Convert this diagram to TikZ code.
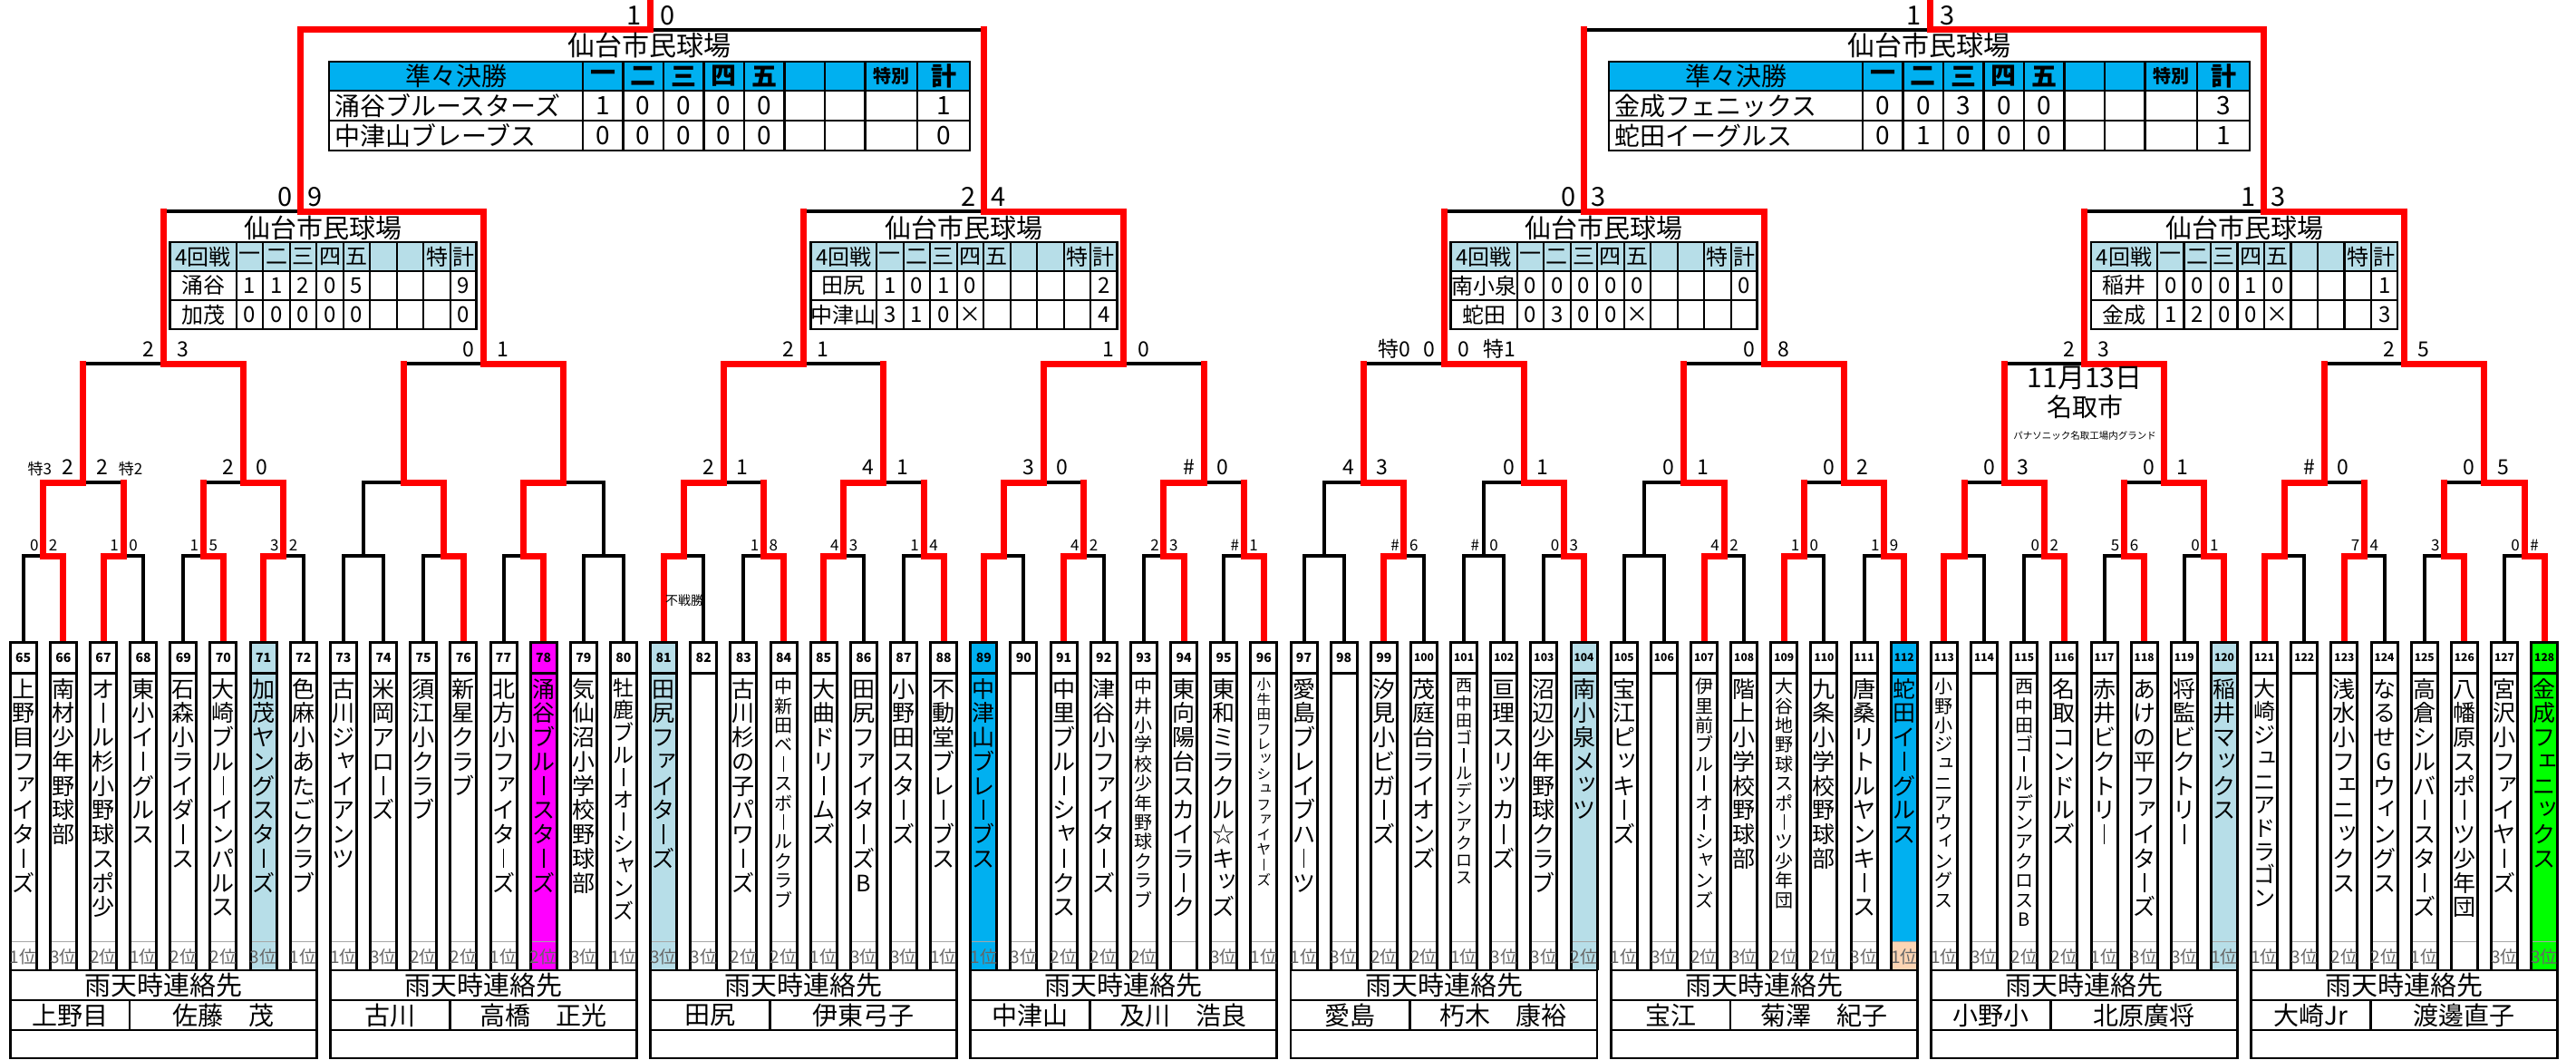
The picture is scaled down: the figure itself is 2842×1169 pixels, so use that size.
\documentclass[tikz,border=0pt]{standalone}
\usepackage{fontspec}
\setmainfont{Noto Sans CJK JP}
\usetikzlibrary{calc}
\definecolor{ltblue}{HTML}{B7DEE8}
\definecolor{qfblue}{HTML}{00B0F0}
\definecolor{mag}{HTML}{FF00FF}
\definecolor{grn}{HTML}{00FF00}
\definecolor{peach}{HTML}{FCD5B4}
\definecolor{rd}{HTML}{FF0000}

% ---------- vertical text ----------
\def\vtstrut{\vrule width 0pt height .92em depth .15em\relax}
\def\vtbox#1{\hbox to 1em{\hss\vtstrut#1\hss}}
\def\vtbar{\hbox to 1em{\hss\vtstrut\vrule width .075em height .82em depth .04em\hss}}
\def\vtsmall#1{\hbox to 1em{\vtstrut\kern.14em\raise.17em\rlap{#1}\hss}}
\expandafter\def\csname vts@ー\endcsname{\vtbar}
\expandafter\def\csname vts@ァ\endcsname{\vtsmall{ァ}}
\expandafter\def\csname vts@ィ\endcsname{\vtsmall{ィ}}
\expandafter\def\csname vts@ゥ\endcsname{\vtsmall{ゥ}}
\expandafter\def\csname vts@ェ\endcsname{\vtsmall{ェ}}
\expandafter\def\csname vts@ォ\endcsname{\vtsmall{ォ}}
\expandafter\def\csname vts@ッ\endcsname{\vtsmall{ッ}}
\expandafter\def\csname vts@ャ\endcsname{\vtsmall{ャ}}
\expandafter\def\csname vts@ュ\endcsname{\vtsmall{ュ}}
\expandafter\def\csname vts@ョ\endcsname{\vtsmall{ョ}}
\def\vtc#1{\ifcsname vts@#1\endcsname\csname vts@#1\endcsname\else\vtbox{#1}\fi}
\def\vtloop#1{\ifx\relax#1\else\vtc{#1}\expandafter\vtloop\fi}
\newcommand\vtext[2]{\vbox{\fontsize{#1}{#1}\selectfont\offinterlineskip\expandafter\vtloop#2\relax}}

\tikzset{
 bk/.style={line width=4pt,line join=miter},
 rdl/.style={draw=rd,line width=7pt,line join=miter,line cap=rect},
 tbox/.style={line width=3pt},
 tbl/.style={line width=2.8pt},
 tin/.style={line width=2.2pt},
 numtxt/.style={inner sep=0pt,font=\bfseries\fontsize{14}{14}\selectfont},
 rktxt/.style={inner sep=0pt,text=black!60,font=\fontsize{19}{19}\selectfont},
 ctitle/.style={inner sep=0pt,font=\fontsize{29}{29}\selectfont},
 cname/.style={inner sep=0pt,font=\fontsize{28}{28}\selectfont},
 qtitle/.style={inner sep=0pt,font=\fontsize{30}{30}\selectfont},
 qcell/.style={inner sep=0pt,font=\fontsize{28}{28}\selectfont},
 qhead/.style={inner sep=0pt,font=\bfseries\fontsize{28}{28}\selectfont},
 r4title/.style={inner sep=0pt,font=\fontsize{29}{29}\selectfont},
 r4cell/.style={inner sep=0pt,font=\fontsize{24}{24}\selectfont},
}

% score labels: #1 name, #2 coordinate, #3 size, #4 left, #5 right, #6 raise, #7 left gap, #8 right gap
\newcommand\lbl[8]{%
 \node[anchor=base east,inner sep=0pt,font=\fontsize{#3}{#3}\selectfont,xshift=-#7pt,yshift=#6pt] (#1l) at (#2) {#4};%
 \node[anchor=base west,inner sep=0pt,font=\fontsize{#3}{#3}\selectfont,xshift=#8pt,yshift=#6pt] (#1r) at (#2) {#5};}

% red winner path: #1 team number, #2 wins
\newcommand\redpath[2]{%
 \pgfmathtruncatemacro\ia{(#1-65)/2}%
 \pgfmathtruncatemacro\ib{(#1-65)/4}%
 \pgfmathtruncatemacro\ic{(#1-65)/8}%
 \pgfmathtruncatemacro\id{(#1-65)/16}%
 \pgfmathtruncatemacro\ie{(#1-65)/32}%
 \ifcase#2\relax\or
 \draw[rdl] (T#1) |- (A\ia) -- (A\ia |- B\ib);\or
 \draw[rdl] (T#1) |- (A\ia) |- (B\ib) -- (B\ib |- C\ic);\or
 \draw[rdl] (T#1) |- (A\ia) |- (B\ib) |- (C\ic) -- (C\ic |- D\id);\or
 \draw[rdl] (T#1) |- (A\ia) |- (B\ib) |- (C\ic) |- (D\id) -- (D\id |- E\ie);\or
 \draw[rdl] (T#1) |- (A\ia) |- (B\ib) |- (C\ic) |- (D\id) |- (E\ie) -- (F\ie);\fi}

% 4th-round table: #1 id, #2 centre x, #3 name1, #4 row1, #5 name2, #6 row2
\newcommand\rtab[6]{%
 \pgfmathsetmacro\tx{#2-169}%
 \fill[white] (\tx,267) rectangle ++(338,96);
 \fill[ltblue] (\tx,267) rectangle ++(338,32);
 \foreach \k in {1,...,9}{\draw[tin] ({\tx+73+29.5*(\k-1)},267) -- ++(0,96);}
 \draw[tbl] (\tx,299) -- ++(338,0);
 \draw[tbl] (\tx,331) -- ++(338,0);
 \draw[tbl] (\tx,267) rectangle ++(338,96);
 \node[r4title] (#1T) at (#2,251) {仙台市民球場};
 \node[r4cell] (#1H) at (\tx+36.5,283) {4回戦};
 \foreach \vv [count=\k] in {一,二,三,四,五,{},{},特,計}{\node[r4cell] (#1H\k) at ({\tx+73+29.5*(\k-0.5)},283) {\vv};}
 \node[r4cell] (#1A) at (\tx+36.5,315) {#3};
 \foreach \vv [count=\k] in {#4}{\node[r4cell] (#1A\k) at ({\tx+73+29.5*(\k-0.5)},315) {\vv};}
 \node[r4cell] (#1B) at (\tx+36.5,347) {#5};
 \foreach \vv [count=\k] in {#6}{\node[r4cell] (#1B\k) at ({\tx+73+29.5*(\k-0.5)},347) {\vv};}
}

% quarter-final table
\newcommand\qtab[6]{%
 \pgfmathsetmacro\tx{#2-353.5}%
 \fill[white] (\tx,68) rectangle ++(707,98);
 \fill[qfblue] (\tx,68) rectangle ++(707,32);
 \foreach \k in {1,...,9}{\pgfmathsetmacro\lx{\tx+ifthenelse(\k<9,280+44.5*(\k-1),649.25)}\draw[tin] (\lx,68) -- (\lx,166);}
 \draw[tbl] (\tx,100) -- ++(707,0);
 \draw[tbl] (\tx,133) -- ++(707,0);
 \draw[tbl] (\tx,68) rectangle ++(707,98);
 \node[qtitle] (#1T) at (#2,50) {仙台市民球場};
 \node[qcell] (#1H) at (\tx+140,84) {準々決勝};
 \foreach \vv [count=\k] in {一,二,三,四,五,{},{},{\fontsize{20}{20}\selectfont 特別},計}{\pgfmathsetmacro\cx{\tx+ifthenelse(\k<8,280+44.5*(\k-0.5),620.375+57.75*(\k-8))}\node[qhead] (#1H\k) at (\cx,84) {\vv};}
 \node[qcell,anchor=west] (#1A) at (\tx+6,116.5) {#3};
 \foreach \vv [count=\k] in {#4}{\pgfmathsetmacro\cx{\tx+ifthenelse(\k<8,280+44.5*(\k-0.5),620.375+57.75*(\k-8))}\node[qcell] (#1A\k) at (\cx,116.5) {\vv};}
 \node[qcell,anchor=west] (#1B) at (\tx+6,149.5) {#5};
 \foreach \vv [count=\k] in {#6}{\pgfmathsetmacro\cx{\tx+ifthenelse(\k<8,280+44.5*(\k-0.5),620.375+57.75*(\k-8))}\node[qcell] (#1B\k) at (\cx,149.5) {\vv};}
}

\begin{document}
\begin{tikzpicture}[x=1pt,y=-1pt]
\useasboundingbox (0,0) rectangle (2842,1169);
\fill[white] (0,0) rectangle (2842,1169);

% ---------- coordinates ----------
\foreach \n in {65,...,128}{\pgfmathsetmacro\xx{25.7+44.15*(\n-65)}\coordinate (T\n) at (\xx,708);}
\foreach \i in {0,...,31}{\pgfmathsetmacro\xx{25.7+44.15*(2*\i+0.5)}\coordinate (A\i) at (\xx,613);}
\foreach \i in {0,...,15}{\pgfmathsetmacro\xx{25.7+44.15*(4*\i+1.5)}\coordinate (B\i) at (\xx,532);}
\foreach \i in {0,...,7}{\pgfmathsetmacro\xx{25.7+44.15*(8*\i+3.5)}\coordinate (C\i) at (\xx,401);}
\coordinate (D0) at (331,233);
\coordinate (D1) at (1085,233);
\coordinate (D2) at (1747,233);
\coordinate (D3) at (2497,233);
\coordinate (E0) at (717,33);
\coordinate (E1) at (2129,33);
\coordinate (F0) at (717,0);
\coordinate (F1) at (2129,0);

% ---------- black bracket ----------
\foreach \i in {0,...,31}{\pgfmathtruncatemacro\ta{65+2*\i}\pgfmathtruncatemacro\tb{66+2*\i}\draw[bk] (T\ta) |- (A\i) -| (T\tb);}
\foreach \i in {0,...,15}{\pgfmathtruncatemacro\ta{2*\i}\pgfmathtruncatemacro\tb{2*\i+1}\draw[bk] (A\ta) |- (B\i) -| (A\tb);}
\foreach \i in {0,...,7}{\pgfmathtruncatemacro\ta{2*\i}\pgfmathtruncatemacro\tb{2*\i+1}\draw[bk] (B\ta) |- (C\i) -| (B\tb);}
\foreach \i in {0,...,3}{\pgfmathtruncatemacro\ta{2*\i}\pgfmathtruncatemacro\tb{2*\i+1}\draw[bk] (C\ta) |- (D\i) -| (C\tb);}
\foreach \i in {0,1}{\pgfmathtruncatemacro\ta{2*\i}\pgfmathtruncatemacro\tb{2*\i+1}\draw[bk] (D\ta) |- (E\i) -| (D\tb);}

% ---------- red winners ----------
\foreach \n/\w in {66/2,67/1,70/1,71/3,76/2,78/5,81/3,84/1,85/2,88/1,89/4,91/1,94/2,96/1,99/2,104/3,107/2,109/1,112/4,113/1,116/2,118/1,120/3,121/2,123/1,126/1,128/5}{\redpath{\n}{\w}}

% ---------- tables ----------
\qtab{QA}{716.5}{涌谷ブルースターズ}{1,0,0,0,0,{},{},{},1}{中津山ブレーブス}{0,0,0,0,0,{},{},{},0}
\qtab{QB}{2128.5}{金成フェニックス}{0,0,3,0,0,{},{},{},3}{蛇田イーグルス}{0,1,0,0,0,{},{},{},1}
\rtab{RA}{356.8}{涌谷}{1,1,2,0,5,{},{},{},9}{加茂}{0,0,0,0,0,{},{},{},0}
\rtab{RB}{1063.2}{田尻}{1,0,1,0,{},{},{},{},2}{中津山}{3,1,0,×,{},{},{},{},4}
\rtab{RC}{1769.6}{南小泉}{0,0,0,0,0,{},{},{},0}{蛇田}{0,3,0,0,×,{},{},{},{}}
\rtab{RD}{2476}{稲井}{0,0,0,1,0,{},{},{},1}{金成}{1,2,0,0,×,{},{},{},3}

% ---------- team columns ----------
\foreach \n/\nm/\fs/\rk/\fc/\rc in {
65/上野目ファイターズ/25/1位/white/white,
66/南材少年野球部/25/3位/white/white,
67/オール杉小野球スポ少/25/2位/white/white,
68/東小イーグルス/25/1位/white/white,
69/石森小ライダース/25/2位/white/white,
70/大崎ブルーインパルス/25/2位/white/white,
71/加茂ヤングスターズ/25/3位/ltblue/ltblue,
72/色麻小あたごクラブ/25/1位/white/white,
73/古川ジャイアンツ/25/1位/white/white,
74/米岡アローズ/25/3位/white/white,
75/須江小クラブ/25/2位/white/white,
76/新星クラブ/25/2位/white/white,
77/北方小ファイターズ/25/1位/white/white,
78/涌谷ブルースターズ/25/2位/mag/mag,
79/気仙沼小学校野球部/25/3位/white/white,
80/牡鹿ブルーオーシャンズ/23/1位/white/white,
81/田尻ファイターズ/25/3位/ltblue/ltblue,
82//25/3位/white/white,
83/古川杉の子パワーズ/25/2位/white/white,
84/中新田ベースボールクラブ/20/2位/white/white,
85/大曲ドリームズ/25/1位/white/white,
86/田尻ファイターズB/25/3位/white/white,
87/小野田スターズ/25/3位/white/white,
88/不動堂ブレーブス/25/1位/white/white,
89/中津山ブレーブス/25/1位/qfblue/qfblue,
90//25/3位/white/white,
91/中里ブルーシャークス/25/2位/white/white,
92/津谷小ファイターズ/25/2位/white/white,
93/中井小学校少年野球クラブ/20/2位/white/white,
94/東向陽台スカイラーク/25//white/white,
95/東和ミラクル☆キッズ/25/3位/white/white,
96/小牛田フレッシュファイヤーズ/15.5/1位/white/white,
97/愛島ブレイブハーツ/25/1位/white/white,
98//25/3位/white/white,
99/汐見小ビガーズ/25/2位/white/white,
100/茂庭台ライオンズ/25/2位/white/white,
101/西中田ゴールデンアクロス/18/1位/white/white,
102/亘理スリッカーズ/25/3位/white/white,
103/沼辺少年野球クラブ/25/3位/white/white,
104/南小泉メッツ/25/2位/ltblue/ltblue,
105/宝江ピッキーズ/25/1位/white/white,
106//25/3位/white/white,
107/伊里前ブルーオーシャンズ/20/2位/white/white,
108/階上小学校野球部/25/3位/white/white,
109/大谷地野球スポーツ少年団/20/2位/white/white,
110/九条小学校野球部/25/2位/white/white,
111/唐桑リトルヤンキース/25/3位/white/white,
112/蛇田イーグルス/25/1位/qfblue/peach,
113/小野小ジュニアウィングス/20/1位/white/white,
114//25/3位/white/white,
115/西中田ゴールデンアクロスB/20/2位/white/white,
116/名取コンドルズ/25/2位/white/white,
117/赤井ビクトリー/25/1位/white/white,
118/あけの平ファイターズ/25/3位/white/white,
119/将監ビクトリー/25/3位/white/white,
120/稲井マックス/25/1位/ltblue/ltblue,
121/大崎ジュニアドラゴン/24/1位/white/white,
122//25/3位/white/white,
123/浅水小フェニックス/25/2位/white/white,
124/なるせGウィングス/25/2位/white/white,
125/高倉シルバースターズ/25/1位/white/white,
126/八幡原スポーツ少年団/25//white/white,
127/宮沢小ファイヤーズ/25/3位/white/white,
128/金成フェニックス/25/3位/grn/grn}{
 \pgfmathsetmacro\xx{25.7+44.15*(\n-65)}
 \fill[\fc] (\xx-14.5,708) rectangle (\xx+14.5,1070);
 \fill[\rc] (\xx-14.5,1038) rectangle (\xx+14.5,1070);
 \draw[black!35,line width=1pt] (\xx-13,1038) -- (\xx+13,1038);
 \draw[tbox] (\xx-14.5,1070) -- (\xx-14.5,708) -- (\xx+14.5,708) -- (\xx+14.5,1070);
 \draw[tbox] (\xx-14.5,742) -- (\xx+14.5,742);
 \node[numtxt] (num\n) at (\xx,725.5) {\ifnum\n>99 \fontsize{12}{12}\selectfont\fi\n};
 \node[anchor=north,inner sep=0pt] (nm\n) at (\xx,746) {\vtext{\fs}{\nm}};
 \node[rktxt] (rk\n) at (\xx,1055) {\rk};
}

% ---------- rain-contact tables ----------
\foreach \g/\pl/\pn in {0/上野目/佐藤　茂,1/古川/高橋　正光,2/田尻/伊東弓子,3/中津山/及川　浩良,4/愛島/朽木　康裕,5/宝江/菊澤　紀子,6/小野小/北原廣将,7/大崎Jr/渡邊直子}{
 \pgfmathsetmacro\xl{25.7+44.15*8*\g-14.5}
 \pgfmathsetmacro\xr{25.7+44.15*(8*\g+7)+14.5}
 \pgfmathsetmacro\xm{\xl+0.39*(\xr-\xl)}
 \fill[white] (\xl,1070) rectangle (\xr,1167);
 \draw[tbl] (\xl,1070) rectangle (\xr,1167);
 \draw[tbl] (\xl,1103) -- (\xr,1103);
 \draw[tbl] (\xl,1136) -- (\xr,1136);
 \draw[tbl] (\xm,1103) -- (\xm,1136);
 \node[ctitle] (rt\g) at ({(\xl+\xr)/2},1087) {雨天時連絡先};
 \node[cname] (rp\g) at ({(\xl+\xm)/2},1120) {\pl};
 \node[cname] (rn\g) at ({(\xm+\xr)/2},1120) {\pn};
}

% ---------- score labels ----------
\foreach \i/\lt/\rt in {0/0/2,1/1/0,2/1/5,3/3/2,9/1/8,10/4/3,11/1/4,13/4/2,14/2/3,15/\#/1,17/\#/6,18/\#/0,19/0/3,21/4/2,22/1/0,23/1/9,25/0/2,26/5/6,27/0/1,29/7/4,30/3/{},31/0/\#}{\lbl{La\i}{A\i}{17}{\lt}{\rt}{6}{5}{6}}
\lbl{Lb0}{B0}{23}{{\fontsize{17}{17}\selectfont 特3}\hspace{12pt}2}{2\hspace{12pt}{\fontsize{17}{17}\selectfont 特2}}{9}{10}{14}
\foreach \i/\lt/\rt in {1/2/0,4/2/1,5/4/1,6/3/0,7/\#/0,8/4/3,9/0/1,10/0/1,11/0/2,12/0/3,13/0/1,14/\#/0,15/0/5}{\lbl{Lb\i}{B\i}{23}{\lt}{\rt}{9}{10}{14}}
\foreach \i/\lt/\rt in {0/2/3,1/0/1,2/2/1,3/1/0,5/0/8,6/2/3,7/2/5}{\lbl{Lc\i}{C\i}{23}{\lt}{\rt}{8}{10}{15}}
\lbl{Lc4}{C4}{23}{特0\hspace{14pt}0}{0\hspace{16pt}特1}{8}{10}{15}
\foreach \i/\lt/\rt in {0/0/9,1/2/4,2/0/3,3/1/3}{\lbl{Ld\i}{D\i}{29}{\lt}{\rt}{6}{8}{8}}
\lbl{Le0}{E0}{29}{1}{0}{5}{9}{11}
\lbl{Le1}{E1}{29}{1}{3}{5}{9}{11}

% ---------- other texts ----------
\node[inner sep=0pt,font=\fontsize{14}{14}\selectfont] (fusen) at (755,662) {不戦勝};
\node[inner sep=0pt,font=\fontsize{30}{30}\selectfont] (date) at (2300,417) {11月13日};
\node[inner sep=0pt,font=\fontsize{28}{28}\selectfont] (city) at (2300,449) {名取市};
\node[inner sep=0pt,font=\fontsize{10.5}{10.5}\selectfont] (ground) at (2300,481) {パナソニック名取工場内グランド};
\end{tikzpicture}
\end{document}
